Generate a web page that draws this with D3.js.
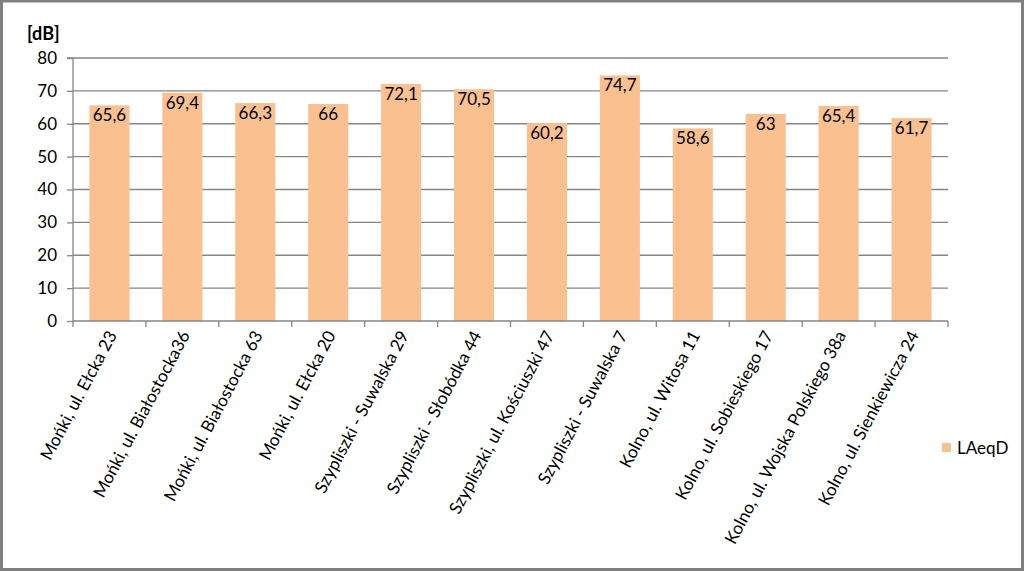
<!DOCTYPE html>
<html><head><meta charset="utf-8">
<script src="https://cdn.jsdelivr.net/npm/d3@7"></script>
<style>html,body{margin:0;padding:0;background:#fff;}svg{display:block;}</style>
</head><body>
<script>
const categories = ["Mońki, ul. Ełcka 23","Mońki, ul. Białostocka36","Mońki, ul. Białostocka 63","Mońki, ul. Ełcka 20","Szypliszki - Suwalska 29","Szypliszki - Słobódka 44","Szypliszki, ul. Kościuszki 47","Szypliszki - Suwalska 7","Kolno, ul. Witosa 11","Kolno, ul. Sobieskiego 17","Kolno, ul. Wojska Polskiego 38a","Kolno, ul. Sienkiewicza 24"];
const values = [65.6,69.4,66.3,66,72.1,70.5,60.2,74.7,58.6,63,65.4,61.7];
const valueLabels = ["65,6","69,4","66,3","66","72,1","70,5","60,2","74,7","58,6","63","65,4","61,7"];
const yTicks = [0,10,20,30,40,50,60,70,80];
const seriesName = "LAeqD";
const unitLabel = "[dB]";

const W = 1024, H = 571;
const font = "Lato, 'Open Sans', sans-serif";
const svg = d3.select("body").append("svg").attr("width", W).attr("height", H);
svg.append("rect").attr("x",0).attr("y",0).attr("width",W).attr("height",H).attr("fill","#fff");
// border
svg.append("rect").attr("x",1.5).attr("y",1).attr("width",W-3).attr("height",H-2.5)
  .attr("fill","none").attr("stroke","#7f7f7f").attr("stroke-width",3);

const pLeft = 73, pRight = 948, pTop = 58, pBottom = 321;
const x = d3.scaleBand().domain(categories).range([pLeft, pRight]).paddingInner(0.45).paddingOuter(0.225);
const xb = d3.scaleBand().domain(categories).range([pLeft, pRight]);
const y = d3.scaleLinear().domain([0,80]).range([pBottom, pTop]);

// gridlines
svg.append("g").selectAll("line").data(yTicks.filter(d=>d>0)).join("line")
  .attr("x1", pLeft).attr("x2", pRight).attr("y1", d=>y(d)).attr("y2", d=>y(d))
  .attr("stroke","#868686").attr("stroke-width",1.3);

// bars
svg.append("g").selectAll("rect").data(values).join("rect")
  .attr("x",(d,i)=>x(categories[i])).attr("width",x.bandwidth())
  .attr("y",d=>y(d)).attr("height",d=>pBottom-y(d)).attr("fill","#FAC090");

// data labels
svg.append("g").selectAll("text").data(values).join("text")
  .attr("x",(d,i)=>x(categories[i])+x.bandwidth()/2).attr("y",d=>y(d)+16)
  .attr("text-anchor","middle").attr("font-family",font).attr("font-size",17).attr("fill","#000")
  .text((d,i)=>valueLabels[i]);

// y axis
const yAxis = d3.axisLeft(y).tickValues(yTicks).tickSize(6).tickPadding(10).tickFormat(d=>d);
const ya = svg.append("g").attr("transform",`translate(${pLeft},0)`).call(yAxis);
ya.select(".domain").attr("stroke","#868686").attr("stroke-width",1.3).attr("d",`M-6,${pTop}H0V${pBottom}`);
ya.selectAll(".tick line").attr("stroke","#868686").attr("stroke-width",1.3);
ya.selectAll(".tick text").attr("font-family",font).attr("font-size",17).attr("fill","#000");

// x axis
const xa = svg.append("g").attr("transform",`translate(0,${pBottom})`);
xa.append("line").attr("x1",pLeft).attr("x2",pRight).attr("y1",0).attr("y2",0).attr("stroke","#868686").attr("stroke-width",1.3);
const bounds = categories.map(c=>xb(c)).concat([pRight]);
xa.selectAll("line.tk").data(bounds).join("line").attr("class","tk")
  .attr("x1",d=>d).attr("x2",d=>d).attr("y1",0).attr("y2",6).attr("stroke","#868686").attr("stroke-width",1.3);
xa.selectAll("text").data(categories).join("text")
  .attr("transform",d=>`translate(${xb(d)+xb.bandwidth()/2+8},${14}) rotate(-62)`)
  .attr("text-anchor","end").attr("font-family",font).attr("font-size",17.2).attr("fill","#000")
  .text(d=>d);

// unit label
svg.append("text").attr("x",27).attr("y",40).attr("font-family",font).attr("font-weight","bold")
  .attr("font-size",18).attr("fill","#000").text(unitLabel);

// legend
svg.append("rect").attr("x",942).attr("y",443).attr("width",9).attr("height",9).attr("fill","#FAC090");
svg.append("text").attr("x",957).attr("y",454).attr("font-family",font).attr("font-size",17)
  .attr("fill","#000").text(seriesName);
</script>
</body></html>
